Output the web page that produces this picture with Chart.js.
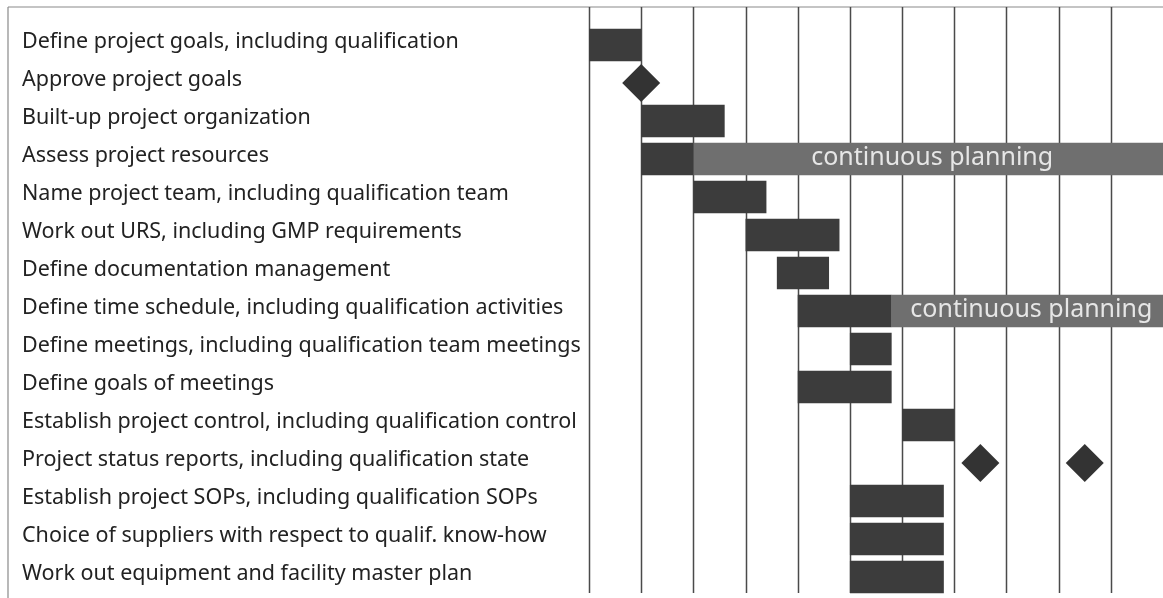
<!DOCTYPE html>
<html lang="en">
<head>
    <meta charset="UTF-8">
    <title>Project Plan</title>
    <script src="https://cdn.jsdelivr.net/npm/chart.js"></script>
    <style>
        html, body { margin: 0; padding: 0; background: #fff; }
        .chart-box { width: 1163px; height: 598px; position: relative; }
    </style>
</head>
<body>
    <div class="chart-box">
        <canvas id="planChart"></canvas>
    </div>

    <script>
        // Tasks (rows, top to bottom)
        const tasks = [
            'Define project goals, including qualification',
            'Approve project goals',
            'Built-up project organization',
            'Assess project resources',
            'Name project team, including qualification team',
            'Work out URS, including GMP requirements',
            'Define documentation management',
            'Define time schedule, including qualification activities',
            'Define meetings, including qualification team meetings',
            'Define goals of meetings',
            'Establish project control, including qualification control',
            'Project status reports, including qualification state',
            'Establish project SOPs, including qualification SOPs',
            'Choice of suppliers with respect to qualif. know-how',
            'Work out equipment and facility master plan'
        ];

        // Time periods shown as columns
        const periods = [0, 11];

        // Activity bars [start, end] per task
        const activities = [
            [0, 1], null, [1, 2.6], [1, 2], [2, 3.4], [3, 4.8], [3.6, 4.6],
            [4, 5.8], [5, 5.8], [4, 5.8], [6, 7], null,
            [5, 6.8], [5, 6.8], [5, 6.8]
        ];

        // Continuous planning bars
        const planning = [
            null, null, null, [2, 11], null, null, null,
            [5.8, 11], null, null, null, null, null, null, null
        ];
        const planningText = 'continuous planning';

        // Milestones
        const milestones = [
            { x: 1, y: tasks[1] },
            { x: 7.5, y: tasks[11] },
            { x: 9.5, y: tasks[11] }
        ];

        const labelFont = 'Noto Sans';

        // frame, grid columns and bar captions
        const framePlugin = {
            id: 'frame',
            beforeDatasetsDraw(chart) {
                const ctx = chart.ctx;
                const xs = chart.scales.x;
                const area = chart.chartArea;
                const top = 7;
                ctx.save();
                ctx.strokeStyle = '#8a8a8a';
                ctx.lineWidth = 1.2;
                ctx.beginPath();
                ctx.moveTo(8, top);
                ctx.lineTo(chart.width, top);
                ctx.moveTo(8, top);
                ctx.lineTo(8, chart.height);
                ctx.stroke();

                ctx.strokeStyle = '#4a4a4a';
                ctx.lineWidth = 1.5;
                ctx.beginPath();
                xs.ticks.forEach(t => {
                    if (t.value >= periods[1]) return;
                    const px = Math.round(xs.getPixelForValue(t.value)) + 0.5;
                    ctx.moveTo(px, top);
                    ctx.lineTo(px, area.bottom - 3);
                });
                ctx.stroke();
                ctx.restore();
            },
            afterDatasetsDraw(chart) {
                const ctx = chart.ctx;
                const meta = chart.getDatasetMeta(1);
                ctx.save();
                ctx.fillStyle = '#e6e6e6';
                ctx.font = '25px "' + labelFont + '"';
                ctx.textAlign = 'center';
                ctx.textBaseline = 'middle';
                meta.data.forEach((bar, i) => {
                    if (!planning[i]) return;
                    const cx = (bar.x + bar.base) / 2;
                    ctx.fillText(planningText, cx + 4, bar.y - 1);
                });
                ctx.restore();
            }
        };

        const ctx = document.getElementById('planChart').getContext('2d');
        const planChart = new Chart(ctx, {
            type: 'bar',
            data: {
                labels: tasks,
                datasets: [
                    {
                        label: 'Activity',
                        data: activities,
                        backgroundColor: '#3c3c3c',
                        grouped: false,
                        barPercentage: 0.85,
                        categoryPercentage: 1,
                        order: 2
                    },
                    {
                        label: 'Continuous planning',
                        data: planning,
                        backgroundColor: '#6f6f6f',
                        grouped: false,
                        barPercentage: 0.85,
                        categoryPercentage: 1,
                        order: 3
                    },
                    {
                        type: 'scatter',
                        label: 'Milestone',
                        data: milestones,
                        pointStyle: 'rectRot',
                        pointRadius: 19,
                        pointHoverRadius: 19,
                        backgroundColor: '#333333',
                        borderWidth: 0,
                        order: 1
                    }
                ]
            },
            options: {
                indexAxis: 'y',
                responsive: true,
                maintainAspectRatio: false,
                animation: false,
                layout: {
                    autoPadding: false,
                    padding: { top: 26, bottom: 2, left: 22, right: 0 }
                },
                plugins: {
                    legend: { display: false },
                    tooltip: { enabled: false }
                },
                scales: {
                    x: {
                        type: 'linear',
                        min: periods[0],
                        max: periods[1],
                        display: false,
                        ticks: { stepSize: 1 }
                    },
                    y: {
                        type: 'category',
                        grid: { display: false },
                        border: { display: false },
                        ticks: {
                            crossAlign: 'far',
                            color: '#222222',
                            padding: 0,
                            labelOffset: -3,
                            font: { family: labelFont, size: 21.5 }
                        },
                        afterFit(scale) {
                            scale.width = 567;
                            scale.paddingTop = 0;
                            scale.paddingBottom = 0;
                        }
                    }
                }
            },
            plugins: [framePlugin]
        });
    </script>
</body>
</html>
